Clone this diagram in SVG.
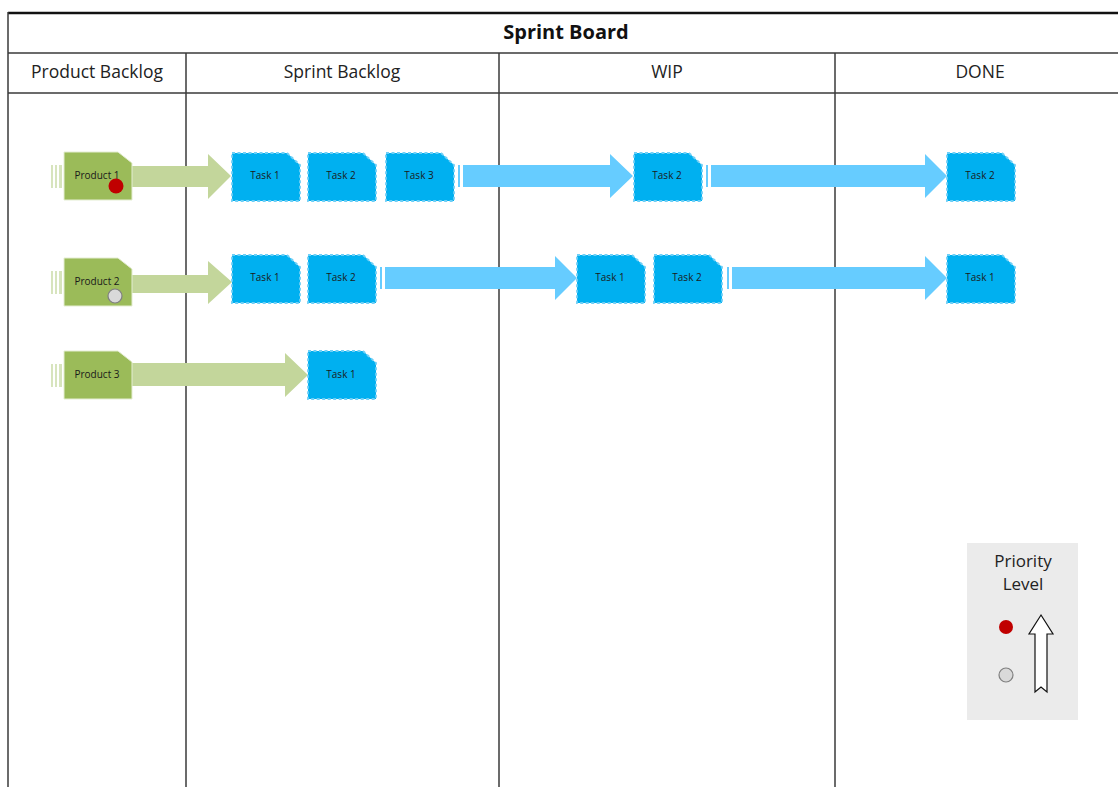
<svg xmlns="http://www.w3.org/2000/svg" width="1118" height="787" viewBox="0 0 1118 787">
  <style>
    .grid { stroke: #3a3a3a; stroke-width: 1.5; fill: none; }
    .title { font-family: "Open Sans", "Liberation Sans", sans-serif; font-weight: bold; font-size: 20px; fill: #111; text-anchor: middle; }
    .colhead { font-family: "Open Sans", "Liberation Sans", sans-serif; font-size: 17.5px; fill: #222; text-anchor: middle; }
    .product { fill: #9BBB59; stroke: #E4EDD2; stroke-width: 1; }
    .pstripe { fill: #D7E4BD; }
    .task { fill: #00B0F0; stroke: #6FCFF6; stroke-width: 1.8; stroke-dasharray: 3 2.5; }
    .lbl { font-family: "Open Sans", "Liberation Sans", sans-serif; font-size: 10px; fill: #1a1a1a; text-anchor: middle; }
    .garrow { fill: #C3D69B; }
    .barrow { fill: #66CCFF; }
    .legend { font-family: "Open Sans", "Liberation Sans", sans-serif; font-size: 17px; fill: #222; text-anchor: middle; }
    .red { fill: #C00000; }
    .grey { fill: #D9D9D9; stroke: #7F7F7F; stroke-width: 1.2; }
  </style>
  <defs>
    <!-- card shapes with a clipped top-right corner -->
    <path id="pcard" d="M0,0 H54 L68,11 V48 H0 Z"/>
    <path id="tcard" d="M0,0 H55 L68,12 V48 H0 Z"/>
    <!-- three thin bars trailing a product card -->
    <g id="pstripes">
      <rect x="-13" y="13" width="2" height="23"/>
      <rect x="-9" y="13" width="2" height="23"/>
      <rect x="-5" y="13" width="3" height="23"/>
    </g>
  </defs>

  <rect width="1118" height="787" fill="#ffffff"/>

  <!-- board frame -->
  <g id="board">
    <line x1="8" y1="13" x2="1118" y2="13" stroke="#111" stroke-width="2.5"/>
    <line class="grid" x1="8" y1="12" x2="8" y2="787"/>
    <line class="grid" x1="8" y1="53" x2="1118" y2="53"/>
    <line class="grid" x1="8" y1="93" x2="1118" y2="93"/>
    <line class="grid" x1="186" y1="53" x2="186" y2="787"/>
    <line class="grid" x1="499" y1="53" x2="499" y2="787"/>
    <line class="grid" x1="835" y1="53" x2="835" y2="787"/>
    <text class="title" x="566" y="39">Sprint Board</text>
    <text class="colhead" x="97" y="78">Product Backlog</text>
    <text class="colhead" x="342" y="78">Sprint Backlog</text>
    <text class="colhead" x="667" y="78">WIP</text>
    <text class="colhead" x="980" y="78">DONE</text>
  </g>

  <!-- flow arrows -->
  <g id="connectors">
    <!-- row 1 -->
    <path class="garrow" d="M132,166 H208 V154 L231,176 L208,199 V187 H132 Z"/>
    <rect class="barrow" x="458" y="165" width="2" height="22"/>
    <path class="barrow" d="M463,165 H610 V154 L633,176 L610,198 V187 H463 Z"/>
    <rect class="barrow" x="706" y="165" width="2" height="22"/>
    <path class="barrow" d="M711,165 H925 V154 L947,176 L925,198 V187 H711 Z"/>
    <!-- row 2 -->
    <path class="garrow" d="M132,275 H208 V261 L232,282 L208,304 V293 H132 Z"/>
    <rect class="barrow" x="380" y="267" width="2" height="22"/>
    <path class="barrow" d="M385,267 H555 V256 L577,278 L555,300 V289 H385 Z"/>
    <rect class="barrow" x="727" y="267" width="2" height="22"/>
    <path class="barrow" d="M732,267 H925 V256 L947,278 L925,300 V289 H732 Z"/>
    <!-- row 3 -->
    <path class="garrow" d="M132,363 H285 V353 L308,375 L285,397 V386 H132 Z"/>
  </g>

  <!-- product backlog cards -->
  <g id="product1" transform="translate(64,152)">
    <use href="#pstripes" class="pstripe"/>
    <use href="#pcard" class="product"/>
    <text class="lbl" x="33" y="27">Product 1</text>
    <circle class="red" cx="52" cy="34" r="7.5"/>
  </g>
  <g id="product2" transform="translate(64,258)">
    <use href="#pstripes" class="pstripe"/>
    <use href="#pcard" class="product"/>
    <text class="lbl" x="33" y="27">Product 2</text>
    <circle class="grey" cx="51" cy="38" r="7"/>
  </g>
  <g id="product3" transform="translate(64,351)">
    <use href="#pstripes" class="pstripe"/>
    <use href="#pcard" class="product"/>
    <text class="lbl" x="33" y="27">Product 3</text>
  </g>

  <!-- row 1 tasks -->
  <g id="r1-sprint-task1" transform="translate(232,153)"><use href="#tcard" class="task"/><text class="lbl" x="33" y="26">Task 1</text></g>
  <g id="r1-sprint-task2" transform="translate(308,153)"><use href="#tcard" class="task"/><text class="lbl" x="33" y="26">Task 2</text></g>
  <g id="r1-sprint-task3" transform="translate(386,153)"><use href="#tcard" class="task"/><text class="lbl" x="33" y="26">Task 3</text></g>
  <g id="r1-wip-task2" transform="translate(634,153)"><use href="#tcard" class="task"/><text class="lbl" x="33" y="26">Task 2</text></g>
  <g id="r1-done-task2" transform="translate(947,153)"><use href="#tcard" class="task"/><text class="lbl" x="33" y="26">Task 2</text></g>

  <!-- row 2 tasks -->
  <g id="r2-sprint-task1" transform="translate(232,255)"><use href="#tcard" class="task"/><text class="lbl" x="33" y="26">Task 1</text></g>
  <g id="r2-sprint-task2" transform="translate(308,255)"><use href="#tcard" class="task"/><text class="lbl" x="33" y="26">Task 2</text></g>
  <g id="r2-wip-task1" transform="translate(577,255)"><use href="#tcard" class="task"/><text class="lbl" x="33" y="26">Task 1</text></g>
  <g id="r2-wip-task2" transform="translate(654,255)"><use href="#tcard" class="task"/><text class="lbl" x="33" y="26">Task 2</text></g>
  <g id="r2-done-task1" transform="translate(947,255)"><use href="#tcard" class="task"/><text class="lbl" x="33" y="26">Task 1</text></g>

  <!-- row 3 tasks -->
  <g id="r3-sprint-task1" transform="translate(308,351)"><use href="#tcard" class="task"/><text class="lbl" x="33" y="27">Task 1</text></g>

  <!-- priority legend -->
  <g id="legend">
    <rect x="967" y="543" width="111" height="177" fill="#EBEBEB"/>
    <text class="legend" x="1023" y="567">Priority</text>
    <text class="legend" x="1023" y="590">Level</text>
    <circle class="red" cx="1006" cy="627" r="7"/>
    <circle class="grey" cx="1006" cy="675" r="7"/>
    <path d="M1041,615 L1053,634 H1047 V692 L1041,687 L1035,692 V634 H1029 Z" fill="#ffffff" stroke="#111" stroke-width="1.2" stroke-linejoin="miter"/>
  </g>
</svg>
